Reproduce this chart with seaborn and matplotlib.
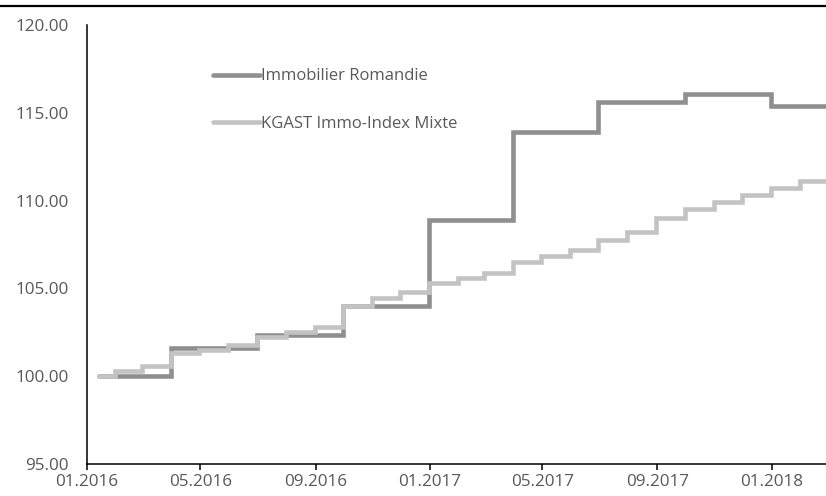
import matplotlib
matplotlib.use("Agg")
import matplotlib.pyplot as plt
import matplotlib.dates as mdates
import seaborn as sns
import pandas as pd
import numpy as np

# ---- data ----
romandie_dates = ["2016-01-14", "2016-03-31", "2016-06-30", "2016-09-30", "2016-12-31",
                  "2017-03-31", "2017-06-30", "2017-09-30", "2017-12-31", "2018-03-31"]
romandie_values = [100.0, 101.6, 102.35, 104.0, 108.9, 113.9, 115.6, 116.05, 115.4, 115.4]

kgast_dates = ["2016-01-14", "2016-01-31", "2016-02-29", "2016-03-31", "2016-04-30", "2016-05-31",
               "2016-06-30", "2016-07-31", "2016-08-31", "2016-09-30", "2016-10-31", "2016-11-30",
               "2016-12-31", "2017-01-31", "2017-02-28", "2017-03-31", "2017-04-30", "2017-05-31",
               "2017-06-30", "2017-07-31", "2017-08-31", "2017-09-30", "2017-10-31", "2017-11-30",
               "2017-12-31", "2018-01-31", "2018-03-31"]
kgast_values = [100.0, 100.3, 100.6, 101.3, 101.5, 101.75, 102.25, 102.5, 102.8, 104.0, 104.45, 104.8,
                105.3, 105.6, 105.9, 106.5, 106.85, 107.2, 107.75, 108.2, 109.0, 109.55, 109.9, 110.3,
                110.7, 111.1, 111.1]

series_names = ["Immobilier Romandie", "KGAST Immo-Index Mixte"]
y_ticks = [95, 100, 105, 110, 115, 120]
x_tick_dates = ["2016-01-01", "2016-05-01", "2016-09-01", "2017-01-01", "2017-05-01", "2017-09-01", "2018-01-01"]

df = pd.concat([
    pd.DataFrame({"date": pd.to_datetime(romandie_dates), "value": romandie_values, "series": series_names[0]}),
    pd.DataFrame({"date": pd.to_datetime(kgast_dates), "value": kgast_values, "series": series_names[1]}),
], ignore_index=True)

# ---- style ----
sns.set_theme(style="white")
plt.rcParams["font.family"] = ["Open Sans", "DejaVu Sans"]
text_color = "#595959"

fig = plt.figure(figsize=(8.26, 4.96), dpi=100)
ax = fig.add_axes([87 / 826, 32 / 496, 1 - 87 / 826, (464 - 25) / 496])

palette = {series_names[0]: "#8f8f8f", series_names[1]: "#c3c3c3"}
sns.lineplot(data=df, x="date", y="value", hue="series", hue_order=series_names,
             palette=palette, estimator=None, drawstyle="steps-post",
             linewidth=3.3, ax=ax, legend=True)
for ln in ax.get_lines():
    ln.set_solid_joinstyle("miter")

ax.set_xlim(pd.Timestamp("2016-01-01"), pd.Timestamp("2018-02-28"))
ax.set_ylim(95, 120)
ax.set_yticks(y_ticks)
ax.yaxis.set_major_formatter(matplotlib.ticker.FormatStrFormatter("%.2f"))
ax.set_xticks(pd.to_datetime(x_tick_dates))
ax.xaxis.set_major_formatter(mdates.DateFormatter("%m.%Y"))
ax.set_xlabel("")
ax.set_ylabel("")

for s in ["top", "right"]:
    ax.spines[s].set_visible(False)
for s in ["left", "bottom"]:
    ax.spines[s].set_color("black")
    ax.spines[s].set_linewidth(1.1)

ax.tick_params(axis="x", which="major", bottom=True, direction="out", length=4, width=1.1,
               color="black", labelsize=12.3, labelcolor=text_color, pad=3)
ax.tick_params(axis="y", which="major", left=False, length=0, labelsize=12.3,
               labelcolor=text_color, pad=13)

leg = ax.legend(loc="upper left", bbox_to_anchor=(205 / 826, 1 - 60 / 496),
                bbox_transform=fig.transFigure, frameon=False, fontsize=12,
                handlelength=2.8, handletextpad=0.05, labelspacing=1.9, borderpad=0)
for t in leg.get_texts():
    t.set_color(text_color)

# top border line of the page
fig.add_artist(plt.Line2D([0, 1], [1 - 6 / 496, 1 - 6 / 496], transform=fig.transFigure,
                          color="black", linewidth=1.6))

fig.savefig("out.png", dpi=100)
